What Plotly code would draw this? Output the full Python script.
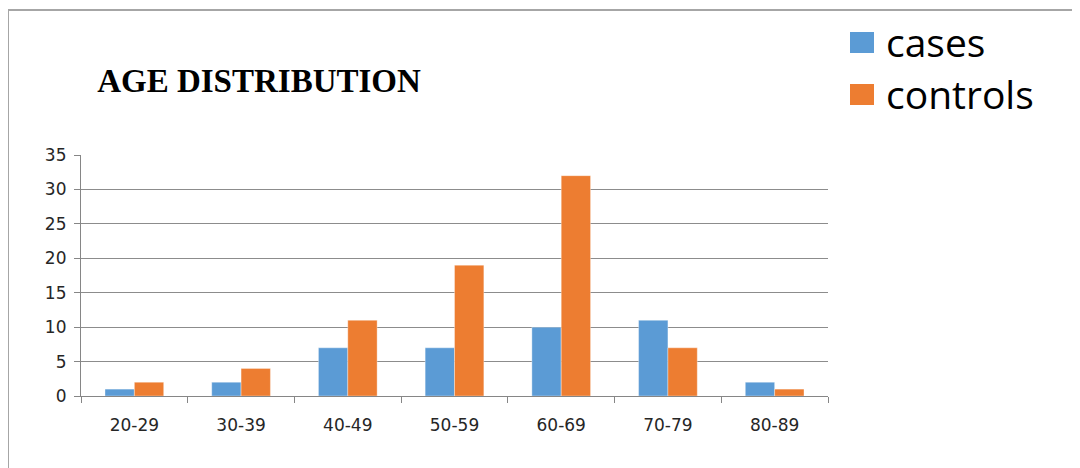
import plotly.graph_objects as go

categories = ["20-29", "30-39", "40-49", "50-59", "60-69", "70-79", "80-89"]
cases = [1, 2, 7, 7, 10, 11, 2]
controls = [2, 4, 11, 19, 32, 7, 1]
series_names = ["cases", "controls"]
colors = ["#5B9BD5", "#ED7D31"]
y_ticks = [0, 5, 10, 15, 20, 25, 30, 35]

OFF = 8  # page body margin
W, H = 1080 - OFF, 468 - OFF
L, R, T, B = 81 - OFF, 828 - OFF, 155 - OFF, 396 - OFF  # plot area pixel bounds


def px(x):
    return (x - OFF - L) / (R - L)


def py(y):
    return (B - (y - OFF)) / (B - T)


fig = go.Figure()
for name, vals, col in zip(series_names, [cases, controls], colors):
    fig.add_trace(go.Bar(
        x=categories, y=vals, name=name,
        marker=dict(color=col, line=dict(color="rgba(255,255,255,0.6)", width=0.6)),
        showlegend=False,
    ))

shapes = [
    # chart frame (left and top)
    dict(type="line", xref="paper", yref="paper", x0=px(8), x1=px(8), y0=py(10), y1=py(470),
         line=dict(color="#A6A6A6", width=2)),
    dict(type="line", xref="paper", yref="paper", x0=px(8), x1=px(1082), y0=py(10), y1=py(10),
         line=dict(color="#A6A6A6", width=2)),
]
annotations = []
legend_rows = [(32, 53, 42), (84, 105, 93)]
for (y0, y1, yc), name, col in zip(legend_rows, series_names, colors):
    shapes.append(dict(type="rect", xref="paper", yref="paper",
                       x0=px(850), x1=px(874), y0=py(y1), y1=py(y0),
                       fillcolor=col, line=dict(width=0)))
    annotations.append(dict(xref="paper", yref="paper", x=px(884), y=py(yc),
                            text=name, showarrow=False, xanchor="left", yanchor="middle",
                            font=dict(family="Open Sans", size=39, color="#000000")))

fig.update_layout(
    width=W, height=H,
    margin=dict(l=L, r=W - R, t=T, b=H - B),
    paper_bgcolor="white", plot_bgcolor="white",
    barmode="group", bargap=0.45, bargroupgap=0,
    title=dict(text="<b>AGE DISTRIBUTION</b>", x=(259 - OFF) / W, xanchor="center",
               y=1 - (80 - OFF) / H, yanchor="middle",
               font=dict(family="Liberation Serif", size=33, color="#000000")),
    shapes=shapes, annotations=annotations,
    xaxis=dict(showline=True, linecolor="#868686", linewidth=1.2,
               ticks="outside", tickson="boundaries", ticklen=6, tickcolor="#868686",
               showgrid=False, ticklabelstandoff=13,
               tickfont=dict(family="DejaVu Sans", size=17, color="#262626")),
    yaxis=dict(range=[0, 35], tickvals=y_ticks, showline=True, linecolor="#868686", linewidth=1.2,
               ticks="outside", ticklen=6, tickcolor="#868686",
               showgrid=True, gridcolor="#8C8C8C", gridwidth=1, zeroline=False,
               ticklabelstandoff=4,
               tickfont=dict(family="DejaVu Sans", size=17, color="#262626")),
)

fig.write_html("out.html")
